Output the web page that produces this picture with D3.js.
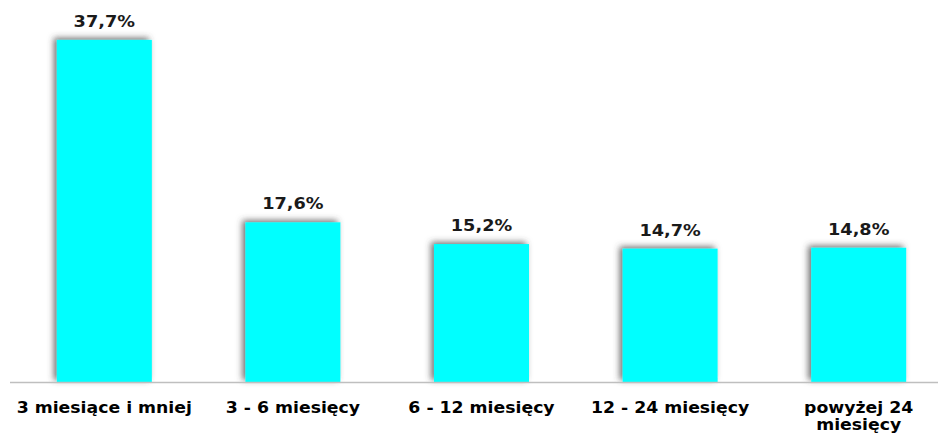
<!DOCTYPE html>
<html>
<head>
<meta charset="utf-8">
<script src="https://cdn.jsdelivr.net/npm/d3@7"></script>
<style>
  html, body { margin: 0; padding: 0; background: #fff; }
  svg { display: block; }
</style>
</head>
<body>
<svg id="chart" width="938" height="435"></svg>
<script>
const categories = ["3 miesiące i mniej", "3 - 6 miesięcy", "6 - 12 miesięcy", "12 - 24 miesięcy", "powyżej 24 miesięcy"];
const values = [37.7, 17.6, 15.2, 14.7, 14.8];
const valueLabels = ["37,7%", "17,6%", "15,2%", "14,7%", "14,8%"];

const svg = d3.select("#chart");
const baseY = 382;

const x = d3.scaleBand().domain(categories).range([10, 953]).paddingInner(0.496).paddingOuter(0.248);
const y = d3.scaleLinear().domain([0, 40]).range([baseY, 19]);

const defs = svg.append("defs");
const f = defs.append("filter").attr("id", "shadow").attr("x", "-30%").attr("y", "-30%").attr("width", "160%").attr("height", "160%");
f.append("feDropShadow").attr("dx", -3).attr("dy", -2).attr("stdDeviation", 3).attr("flood-color", "#444").attr("flood-opacity", 0.75);

svg.append("g").selectAll("rect").data(values).join("rect")
  .attr("x", (d, i) => x(categories[i]))
  .attr("y", d => y(d))
  .attr("width", x.bandwidth())
  .attr("height", d => baseY - y(d))
  .attr("fill", "#00ffff")
  .attr("filter", "url(#shadow)");

// axis line
const axis = svg.append("g").attr("transform", `translate(0,${baseY})`)
  .call(d3.axisBottom(x).tickSize(0).tickFormat(""));
axis.select(".domain").attr("d", "M10,0.5H938").attr("stroke", "#bfbfbf").attr("stroke-width", 1.5);

// value labels
svg.append("g").selectAll("text").data(values).join("text")
  .attr("transform", (d, i) => `translate(${x(categories[i]) + x.bandwidth() / 2},${y(d) - 13}) scale(1.18,1)`)
  .attr("text-anchor", "middle")
  .attr("font-family", "DejaVu Sans, Verdana, sans-serif")
  .attr("font-weight", "bold")
  .attr("font-size", 15)
  .attr("fill", "#1a1a1a")
  .text((d, i) => valueLabels[i]);

// category labels (wrap long ones)
const catG = svg.append("g");
categories.forEach((c, i) => {
  const cx = x(c) + x.bandwidth() / 2;
  const lines = c === "powyżej 24 miesięcy" ? ["powyżej 24", "miesięcy"] : [c];
  const t = catG.append("text")
    .attr("transform", `translate(${cx},413) scale(1.08,1)`)
    .attr("text-anchor", "middle")
    .attr("font-family", "DejaVu Sans, Verdana, sans-serif")
    .attr("font-weight", "bold")
    .attr("font-size", 16)
    .attr("fill", "#000");
  lines.forEach((l, j) => {
    t.append("tspan").attr("x", 0).attr("dy", j === 0 ? 0 : 17).text(l);
  });
});
</script>
</body>
</html>
